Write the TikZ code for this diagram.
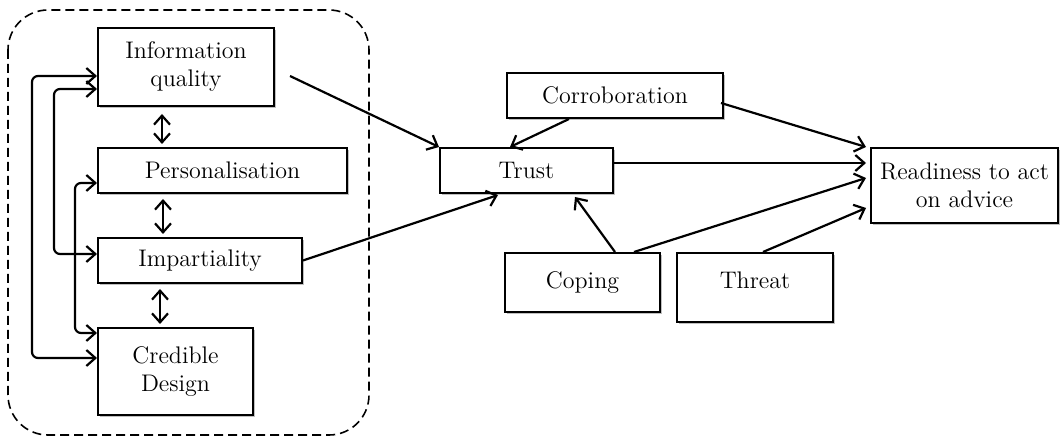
\documentclass[tikz,border=0pt]{standalone}
\usepackage{tikz}
\usetikzlibrary{arrows.meta,shadows}

\begin{document}
\begin{tikzpicture}[x=0.5pt, y=-0.5pt, font=\fontsize{12}{14}\selectfont,
    box/.style={draw, line width=1pt, fill=white, inner sep=2pt, align=center,
      drop shadow={shadow xshift=0.8pt, shadow yshift=-0.8pt, fill=black!25, opacity=1}},
    arr/.style={line width=1.1pt, -{Straight Barb[length=4.5pt, width=8pt, line width=1.1pt]}},
    dbl/.style={line width=1.1pt, {Straight Barb[length=4.5pt, width=8pt, line width=1.1pt]}-{Straight Barb[length=4.5pt, width=8pt, line width=1.1pt]}},
    brk/.style={dbl, rounded corners=3pt}]
    \useasboundingbox (0,0) rectangle (1061,438);
    % group of source factors
    \draw [line width=0.8pt, dash pattern=on 4.5pt off 2.5pt, rounded corners=20pt] (8,10) rectangle (369,435);
    \node (info) [box, minimum width=88pt, minimum height=39pt] at (186,67) {Information\\quality};
    \node (pers) [box, minimum width=124.5pt, minimum height=22.5pt] at (222.5,170.5) {Personalisation};
    \node (imp) [box, minimum width=102pt, minimum height=22.5pt] at (200,260.5) {Impartiality};
    \node (cred) [box, minimum width=77.5pt, minimum height=43.5pt] at (175.5,371.5) {Credible\\Design};
    % model
    \node (trust) [box, minimum width=86.5pt, minimum height=22.5pt] at (526.5,170.5) {Trust};
    \node (corr) [box, minimum width=108pt, minimum height=22.5pt] at (615,95.5) {Corroboration};
    \node (coping) [box, minimum width=77.5pt, minimum height=29.5pt] at (582.5,282.5) {Coping};
    \node (threat) [box, minimum width=78pt, minimum height=34.5pt] at (755,287.5) {Threat\\[-6.5pt]};
    \node (ready) [box, minimum width=93.5pt, minimum height=37.5pt] at (964.5,185.5) {Readiness to act\\on advice};
    % links between the factors
    \draw [dbl, shorten <=3.5pt, shorten >=1.5pt] ([xshift=-12pt]info.south) -- ([xshift=-12pt]info.south |- pers.north);
    \draw [dbl, shorten <=2.5pt, shorten >=1.5pt] ([xshift=-29.75pt]pers.south) -- ([xshift=-29.75pt]pers.south |- imp.north);
    \draw [dbl, shorten <=2.5pt, shorten >=1.5pt] ([xshift=-20pt]imp.south) -- ([xshift=-20pt]imp.south |- cred.north);
    \draw [brk] ([shift={(0,9)}]info.west) -- ++(-65,0) |- ([shift={(0,-13.5)}]cred.west);
    \draw [brk] ([shift={(0,22)}]info.west) -- ++(-43,0) |- ([shift={(0,-6.5)}]imp.west);
    \draw [brk] ([shift={(0,12.5)}]pers.west) -- ++(-22,0) |- ([shift={(0,-38.5)}]cred.west);
    % paths to trust and readiness
    \draw [arr] ([shift={(15,9)}]info.east) -- (trust.north west);
    \draw [arr] (imp.east) -- ([shift={(-28.5,1)}]trust.south);
    \draw [arr] ([shift={(-46,0)}]corr.south) -- ([shift={(-16.5,0)}]trust.north);
    \draw [arr] ([shift={(-3,7.5)}]corr.east) -- ([shift={(-4,0)}]ready.north west);
    \draw [arr] ([shift={(0,-7.5)}]trust.east) -- ([shift={(-4,-22.5)}]ready.west);
    \draw [arr] ([shift={(51.5,0)}]coping.north) -- ([shift={(-4,-7.5)}]ready.west);
    \draw [arr] ([shift={(32.5,0)}]coping.north) -- ([shift={(48.5,3)}]trust.south);
    \draw [arr] ([shift={(8,0)}]threat.north) -- ([shift={(-4,22.5)}]ready.west);
\end{tikzpicture}
\end{document}
